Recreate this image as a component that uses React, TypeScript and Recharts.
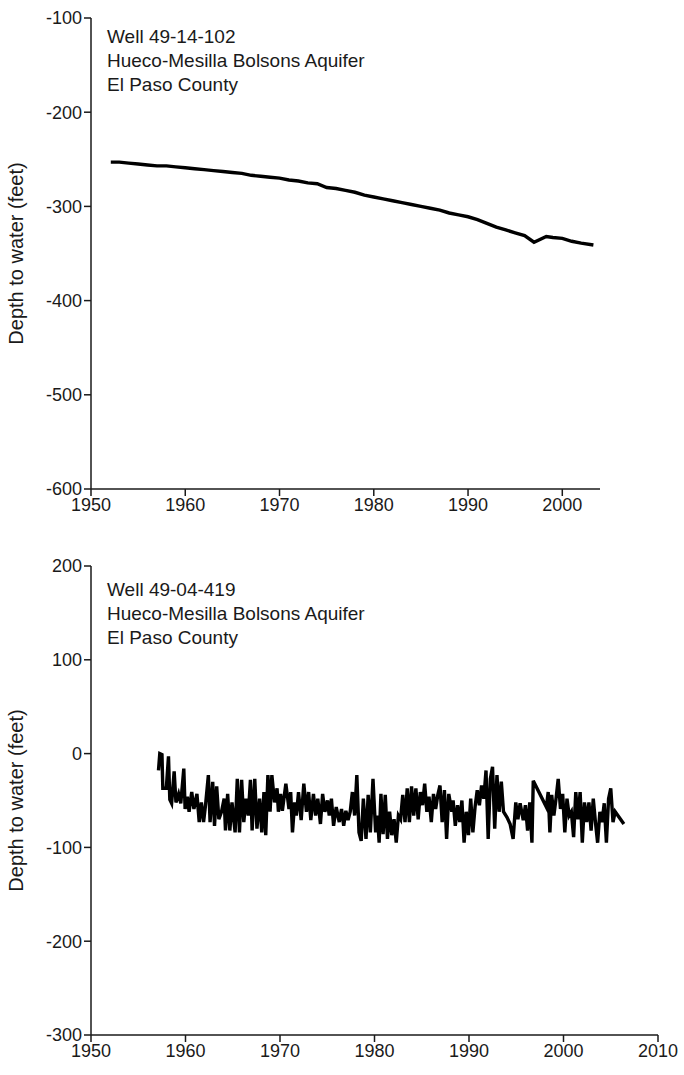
import { LineChart, Line, XAxis, YAxis, Label } from 'recharts';

const FONT = '"Liberation Sans", Arial, Helvetica, sans-serif';
const INK = '#1a1a1a';

// Well 49-14-102
const wellA_years = [
	1952.1, 1953, 1954, 1955, 1956, 1957, 1958, 1959, 1960, 1961,
	1962, 1963, 1964, 1965, 1966, 1967, 1968, 1969, 1970, 1971,
	1972, 1973, 1974, 1975, 1976, 1977, 1978, 1979, 1980, 1981,
	1982, 1983, 1984, 1985, 1986, 1987, 1988, 1989, 1990, 1991,
	1992, 1993, 1994, 1995, 1996, 1997, 1998.3, 1999, 2000, 2001,
	2002, 2003.3,
];
const wellA_depth = [
	-253, -253, -254, -255, -256, -257, -257, -258, -259, -260,
	-261, -262, -263, -264, -265, -267, -268, -269, -270, -272,
	-273, -275, -276, -280, -281, -283, -285, -288, -290, -292,
	-294, -296, -298, -300, -302, -304, -307, -309, -311, -314,
	-318, -322, -325, -328, -331, -338, -332, -333, -334, -337,
	-339, -341,
];
const wellA_xTicks = [1950, 1960, 1970, 1980, 1990, 2000];
const wellA_yTicks = [-600, -500, -400, -300, -200, -100];
const wellA_label = ['Well 49-14-102', 'Hueco-Mesilla Bolsons Aquifer', 'El Paso County'];

// Well 49-04-419
const wellB_years = [
	1957.14, 1957.28, 1957.51, 1957.6, 1957.97, 1958.2, 1958.34, 1958.53, 1958.8, 1958.99,
	1959.27, 1959.5, 1959.82, 1959.96, 1960.19, 1960.38, 1960.66, 1960.89, 1961.21, 1961.45,
	1961.68, 1961.91, 1962.14, 1962.42, 1962.6, 1962.88, 1963.07, 1963.3, 1963.53, 1963.81,
	1964.09, 1964.23, 1964.46, 1964.69, 1964.92, 1965.25, 1965.48, 1965.71, 1965.94, 1966.17,
	1966.4, 1966.64, 1966.87, 1967.05, 1967.33, 1967.56, 1967.84, 1968.07, 1968.3, 1968.49,
	1968.72, 1968.95, 1969.14, 1969.42, 1969.69, 1969.83, 1970.06, 1970.25, 1970.62, 1970.95,
	1971.13, 1971.32, 1971.55, 1971.73, 1971.96, 1972.24, 1972.52, 1972.8, 1973.03, 1973.26,
	1973.54, 1973.77, 1974.0, 1974.28, 1974.51, 1974.75, 1975.02, 1975.21, 1975.44, 1975.67,
	1975.95, 1976.27, 1976.51, 1976.74, 1976.97, 1977.2, 1977.43, 1977.66, 1977.9, 1978.13,
	1978.36, 1978.59, 1978.82, 1979.1, 1979.33, 1979.56, 1979.84, 1980.12, 1980.31, 1980.49,
	1980.68, 1980.91, 1981.14, 1981.37, 1981.6, 1981.83, 1982.07, 1982.3, 1982.53, 1982.76,
	1982.99, 1983.23, 1983.46, 1983.69, 1983.92, 1984.15, 1984.38, 1984.62, 1984.85, 1985.08,
	1985.31, 1985.54, 1985.77, 1986.01, 1986.24, 1986.47, 1986.7, 1986.93, 1987.16, 1987.4,
	1987.63, 1987.86, 1988.18, 1988.32, 1988.55, 1988.79, 1989.02, 1989.25, 1989.48, 1989.71,
	1989.94, 1990.18, 1990.41, 1990.64, 1990.87, 1991.1, 1991.33, 1991.57, 1991.8, 1992.03,
	1992.26, 1992.49, 1992.72, 1992.96, 1993.19, 1993.42, 1993.65, 1994.02, 1994.35, 1994.67,
	1994.95, 1995.18, 1995.41, 1995.74, 1995.97, 1996.2, 1996.43, 1996.66, 1996.8, 1998.19,
	1998.38, 1998.56, 1998.75, 1998.98, 1999.21, 1999.44, 1999.68, 1999.91, 2000.14, 2000.37,
	2000.6, 2000.83, 2001.07, 2001.3, 2001.53, 2001.76, 2001.99, 2002.22, 2002.46, 2002.69,
	2002.92, 2003.15, 2003.38, 2003.61, 2003.85, 2004.08, 2004.31, 2004.54, 2004.77, 2005.0,
	2005.24, 2005.47, 2006.39,
];
const wellB_depth = [
	-18, 0, -1, -37, -37, -3, -49, -53, -19, -52,
	-43, -53, -16, -59, -46, -62, -41, -59, -43, -73,
	-52, -73, -53, -23, -73, -30, -77, -35, -70, -62,
	-48, -82, -43, -82, -52, -84, -27, -84, -28, -73,
	-48, -66, -28, -82, -27, -80, -48, -84, -41, -87,
	-23, -62, -23, -52, -37, -62, -43, -61, -32, -59,
	-41, -84, -52, -66, -41, -71, -32, -62, -41, -71,
	-43, -66, -48, -75, -43, -62, -50, -66, -48, -77,
	-57, -73, -59, -77, -61, -71, -62, -41, -66, -23,
	-84, -93, -48, -91, -44, -84, -27, -84, -66, -95,
	-43, -86, -44, -91, -62, -87, -70, -95, -66, -70,
	-44, -73, -37, -73, -35, -66, -37, -70, -41, -55,
	-32, -62, -46, -73, -43, -59, -44, -34, -73, -39,
	-91, -43, -62, -50, -77, -55, -73, -50, -95, -62,
	-87, -48, -84, -57, -39, -55, -34, -48, -18, -91,
	-27, -14, -80, -23, -62, -30, -62, -68, -75, -91,
	-52, -70, -53, -71, -55, -82, -52, -95, -29, -57,
	-41, -84, -44, -66, -48, -27, -59, -43, -84, -48,
	-66, -62, -89, -41, -70, -41, -95, -52, -73, -52,
	-82, -48, -73, -95, -62, -73, -53, -95, -48, -37,
	-73, -62, -75,
];
const wellB_xTicks = [1950, 1960, 1970, 1980, 1990, 2000, 2010];
const wellB_yTicks = [-300, -200, -100, 0, 100, 200];
const wellB_label = ['Well 49-04-419', 'Hueco-Mesilla Bolsons Aquifer', 'El Paso County'];

const toRows = (years: number[], depth: number[]) =>
	years.map((year, i) => ({ year, depth: depth[i] }));

const tickStyle = { fill: INK, fontSize: 18, fontFamily: FONT };

const yTitle = (props: any) => {
	const vb = props.viewBox || {};
	const cx = 16;
	const cy = vb.y + vb.height / 2;
	return (
		<text
			x={cx}
			y={cy}
			transform={`rotate(-90, ${cx}, ${cy})`}
			textAnchor='middle'
			dominantBaseline='central'
			fill={INK}
			fontSize={20}
			fontFamily={FONT}>
			Depth to water (feet)
		</text>
	);
};

type PanelProps = {
	rows: { year: number; depth: number }[];
	xDomain: [number, number];
	xTicks: number[];
	yDomain: [number, number];
	yTicks: number[];
	lines: string[];
	height: number;
	margin: { top: number; right: number; bottom: number; left: number };
	noteTop: number;
};

const Panel = ({ rows, xDomain, xTicks, yDomain, yTicks, lines, height, margin, noteTop }: PanelProps) => (
	<div style={{ position: 'relative', width: 684, height }}>
		<LineChart width={684} height={height} data={rows} margin={margin}>
			<XAxis
				dataKey='year'
				type='number'
				domain={xDomain}
				ticks={xTicks}
				allowDataOverflow
				height={30}
				stroke={INK}
				strokeWidth={1.5}
				tickSize={7}
				tick={tickStyle}
				interval={0}
			/>
			<YAxis
				type='number'
				domain={yDomain}
				ticks={yTicks}
				allowDataOverflow
				width={60}
				stroke={INK}
				strokeWidth={1.5}
				tickSize={7}
				tick={tickStyle}
				interval={0}>
				<Label content={yTitle} />
			</YAxis>
			<Line
				type='linear'
				dataKey='depth'
				stroke='#000'
				strokeWidth={3.4}
				strokeLinejoin='miter'
				dot={false}
				isAnimationActive={false}
			/>
		</LineChart>
		<div
			style={{
				position: 'absolute',
				left: 107,
				top: noteTop,
				fontFamily: FONT,
				fontSize: 19,
				lineHeight: '24px',
				color: INK,
				whiteSpace: 'nowrap',
			}}>
			{lines.map((t) => (
				<div key={t}>{t}</div>
			))}
		</div>
	</div>
);

export default function App() {
	return (
		<div style={{ position: 'absolute', left: 0, top: 0, width: 684, height: 1075, background: '#fff' }}>
			<Panel
				rows={toRows(wellA_years, wellA_depth)}
				xDomain={[1950, 2004]}
				xTicks={wellA_xTicks}
				yDomain={[-600, -100]}
				yTicks={wellA_yTicks}
				lines={wellA_label}
				height={535}
				margin={{ top: 18, right: 84, bottom: 16, left: 31 }}
				noteTop={25}
			/>
			<Panel
				rows={toRows(wellB_years, wellB_depth)}
				xDomain={[1950, 2010]}
				xTicks={wellB_xTicks}
				yDomain={[-300, 200]}
				yTicks={wellB_yTicks}
				lines={wellB_label}
				height={540}
				margin={{ top: 31, right: 26, bottom: 10, left: 31 }}
				noteTop={43}
			/>
		</div>
	);
}
